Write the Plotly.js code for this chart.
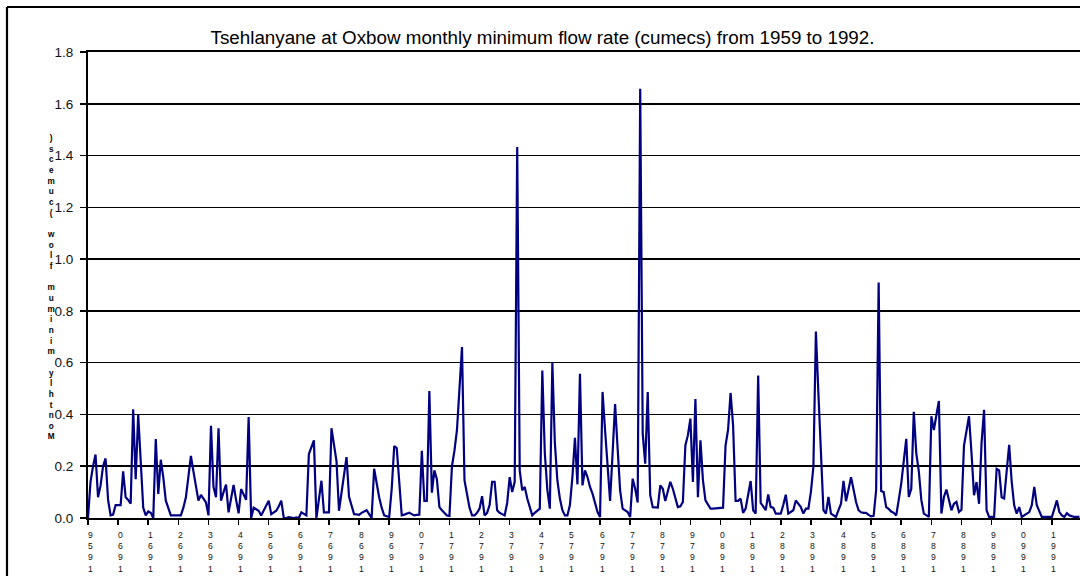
<!DOCTYPE html>
<html>
<head>
<meta charset="utf-8">
<script src="https://cdn.plot.ly/plotly-3.0.1.min.js"></script>
<style>html,body{margin:0;padding:0;background:#fff;}#chart{width:1080px;height:576px;}</style>
</head>
<body>
<div id="chart"></div>
<script>
// ---- DATA (monthly minimum flow, cumecs) ----
const yearLabels = ["1959","1960","1961","1962","1963","1964","1965","1966","1967","1968","1969",
  "1970","1971","1972","1973","1974","1975","1976","1977","1978","1979",
  "1980","1981","1982","1983","1984","1985","1986","1987","1988","1989","1990","1991"];

const flow1959 = [0.00,0.14,0.20,0.245,0.08,0.125,0.20,0.23,0.07,0.01,0.013,0.05];
const flow1960s = [
  0.05,0.05,0.18,0.08,0.07,0.055,0.42,0.15,0.40,0.22,0.04,0.01,
  0.025,0.02,0.0,0.305,0.093,0.225,0.157,0.067,0.04,0.01,0.01,0.01,
  0.01,0.01,0.04,0.08,0.16,0.24,0.18,0.125,0.067,0.089,0.075,0.06,
  0.01,0.356,0.12,0.08,0.347,0.067,0.10,0.129,0.022,0.075,0.128,0.07,
  0.018,0.112,0.09,0.07,0.39,0.0,0.04,0.034,0.028,0.01,0.03,0.05,
  0.067,0.015,0.022,0.028,0.045,0.067,0.0,0.0,0.003,0.002,0.0,0.002,
  0.0,0.022,0.015,0.01,0.247,0.27,0.30,0.0,0.08,0.144,0.022,0.022,
  0.022,0.347,0.28,0.22,0.028,0.10,0.17,0.235,0.082,0.05,0.015,0.014,
  0.012,0.02,0.025,0.03,0.015,0.0,0.19,0.13,0.08,0.04,0.01,0.007,
  0.004,0.113,0.278,0.27,0.14,0.01,0.013,0.017,0.02,0.015,0.01,0.012];
const flow1970s = [
  0.013,0.26,0.066,0.066,0.49,0.098,0.184,0.15,0.042,0.03,0.02,0.01,
  0.008,0.20,0.26,0.34,0.50,0.66,0.145,0.09,0.04,0.01,0.01,0.02,
  0.036,0.084,0.01,0.02,0.05,0.14,0.14,0.03,0.02,0.015,0.01,0.058,
  0.158,0.10,0.14,1.433,0.184,0.107,0.12,0.075,0.04,0.01,0.02,0.03,
  0.036,0.57,0.25,0.11,0.036,0.60,0.29,0.145,0.075,0.03,0.01,0.01,
  0.05,0.16,0.31,0.13,0.557,0.126,0.184,0.158,0.12,0.094,0.06,0.023,
  0.004,0.487,0.34,0.20,0.066,0.25,0.44,0.27,0.107,0.036,0.03,0.023,
  0.004,0.152,0.113,0.06,1.658,0.326,0.21,0.487,0.088,0.042,0.041,0.04,
  0.126,0.113,0.066,0.10,0.14,0.113,0.08,0.042,0.045,0.062,0.28,0.32,
  0.384,0.139,0.46,0.08,0.30,0.145,0.068,0.05,0.036,0.036,0.037,0.037];
const flow1980s = [
  0.038,0.04,0.28,0.34,0.483,0.36,0.066,0.066,0.075,0.02,0.036,0.09,
  0.143,0.03,0.017,0.55,0.058,0.045,0.03,0.091,0.042,0.04,0.017,0.017,
  0.017,0.05,0.09,0.017,0.025,0.03,0.068,0.055,0.042,0.017,0.036,0.036,
  0.10,0.197,0.72,0.48,0.24,0.03,0.017,0.081,0.017,0.01,0.004,0.03,
  0.055,0.143,0.065,0.11,0.158,0.11,0.062,0.03,0.022,0.02,0.02,0.012,
  0.006,0.008,0.107,0.91,0.104,0.10,0.042,0.035,0.025,0.02,0.01,0.07,
  0.133,0.22,0.306,0.081,0.113,0.41,0.25,0.18,0.07,0.017,0.01,0.004,
  0.393,0.34,0.397,0.452,0.017,0.081,0.11,0.07,0.03,0.055,0.062,0.023,
  0.032,0.28,0.34,0.393,0.25,0.088,0.139,0.055,0.29,0.418,0.03,0.004,
  0.004,0.004,0.19,0.184,0.08,0.075,0.18,0.283,0.14,0.049,0.017,0.042];
const flow1990s = [
  0.004,0.01,0.017,0.023,0.049,0.12,0.049,0.025,0.004,0.004,0.004,0.004,
  0.004,0.035,0.068,0.023,0.01,0.004,0.019,0.01,0.006,0.004,0.004,0.004];

const titleText = "Tsehlanyane at Oxbow monthly minimum flow rate (cumecs) from 1959 to 1992.";
const yTitleText = "Monthly minimum flow (cumecs)";

// ---- BUILD ----
const flow = [].concat(flow1959, flow1960s, flow1970s, flow1980s, flow1990s);
const monthIndex = flow.map((_, i) => i);
const tickPos = yearLabels.map((_, i) => i * 12);

const W = 1080, H = 576, L = 88, R = 0, T = 52, B = 58;
const pw = W - L - R, ph = H - T - B;
const pxX = px => (px - L) / pw;
const pxY = py => (H - B - py) / ph;
const FONT = 'Liberation Sans, Arial, sans-serif';
const stack = s => s.split('').reverse().map(c => c === ' ' ? '&nbsp;' : c).join('<br>');

const annotations = [];
// x tick labels: upright characters stacked, reading bottom to top (one text per year)
yearLabels.forEach((lab, i) => {
  annotations.push({
    text: stack(lab),
    x: tickPos[i], xref: 'x', y: pxY(528), yref: 'paper',
    xanchor: 'center', yanchor: 'top', showarrow: false, xshift: 2,
    font: {family: FONT, size: 8.6, color: '#111'}
  });
});
// y title: stacked upright bold characters, reading bottom to top (one text)
annotations.push({
  text: stack(yTitleText),
  x: pxX(51), xref: 'paper', y: pxY(287), yref: 'paper',
  xanchor: 'center', yanchor: 'middle', showarrow: false,
  font: {family: FONT, size: 8.2, color: '#000', weight: 'bold'}
});

const shapes = [
  {type: 'line', xref: 'paper', yref: 'paper', x0: pxX(7), x1: pxX(7), y0: pxY(7), y1: pxY(600),
   line: {color: '#000', width: 2.2}},
  {type: 'line', xref: 'paper', yref: 'paper', x0: pxX(7), x1: pxX(1100), y0: pxY(7), y1: pxY(7),
   line: {color: '#000', width: 2.2}}
];

const trace = {
  x: monthIndex, y: flow, type: 'scatter', mode: 'lines',
  line: {color: '#000080', width: 2.2}, hoverinfo: 'skip', cliponaxis: true
};

const layout = {
  width: W, height: H,
  margin: {l: L, r: R, t: T, b: B, pad: 0},
  paper_bgcolor: '#fff', plot_bgcolor: '#fff',
  showlegend: false,
  title: {
    text: titleText, x: 542.5 / W, xref: 'container', xanchor: 'center',
    y: 1 - 37 / H, yref: 'container', yanchor: 'middle',
    font: {family: FONT, size: 18.8, color: '#000'}
  },
  xaxis: {
    range: [0, pw / 2.51], showgrid: false, zeroline: false,
    showline: true, linecolor: '#000', linewidth: 2, mirror: true,
    tickmode: 'array', tickvals: tickPos, ticktext: tickPos.map(() => ''),
    ticks: 'outside', ticklen: 5, tickwidth: 1.5, tickcolor: '#000',
    showticklabels: false, fixedrange: true
  },
  yaxis: {
    range: [0, 1.8], dtick: 0.2, tick0: 0, tickformat: '.1f',
    showgrid: true, gridcolor: '#000', gridwidth: 1.6, zeroline: false,
    showline: true, linecolor: '#000', linewidth: 2,
    ticks: 'outside', ticklen: 6, tickwidth: 1.5, tickcolor: '#000',
    ticklabelstandoff: 4,
    tickfont: {family: FONT, size: 13.5, color: '#111'},
    fixedrange: true
  },
  annotations: annotations,
  shapes: shapes
};

Plotly.newPlot('chart', [trace], layout, {displayModeBar: false, staticPlot: true});
</script>
</body>
</html>
